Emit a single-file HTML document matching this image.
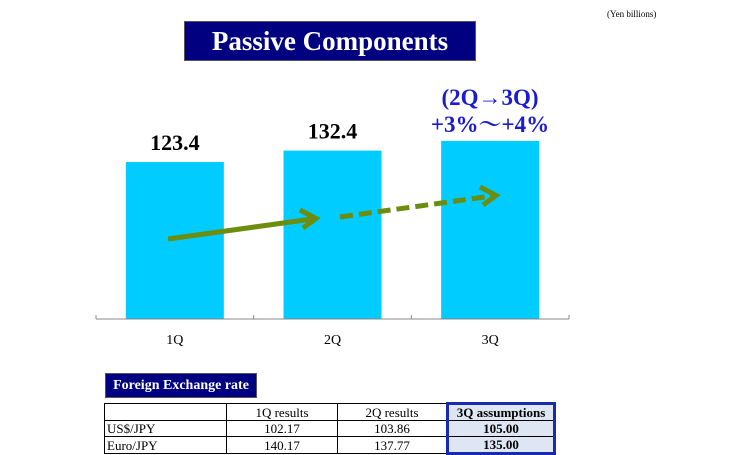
<!DOCTYPE html>
<html><head><meta charset="utf-8"><style>
body{margin:0;width:750px;height:453px;background:#fff;overflow:hidden;font-family:"Liberation Serif",serif;position:relative}
.abs{position:absolute}
table{border-collapse:collapse;position:absolute;left:104px;top:402px;font-size:13px;font-family:"Liberation Serif",serif}
td{border:1px solid #000;height:15px;padding:0 2px;line-height:15px;text-align:center}
td.l{text-align:left}
td.q3{background:#dde6f2;font-weight:bold;border-left:3px solid #1a2ab0;border-right:3px solid #1a2ab0}
</style></head><body>
<div class="abs" style="left:607px;top:9px;font-size:9px">(Yen billions)</div>
<div class="abs" style="left:184px;top:21px;width:290px;height:38px;background:#000080;border:1px solid #555;color:#fff;font-weight:bold;font-size:27px;text-align:center;line-height:38px">Passive Components</div>
<svg class="abs" style="left:0;top:0" width="750" height="370">
<g id="g"></g>
<text x="490" y="105" text-anchor="middle" font-weight="bold" font-size="23" fill="#1a1ad0" font-family="Liberation Serif">(2Q→3Q)</text>
<text x="490" y="132" text-anchor="middle" font-weight="bold" font-size="23" fill="#1a1ad0" font-family="Liberation Serif, Noto Serif CJK SC, serif">+3%～+4%</text>
<line x1="168" y1="239" x2="312" y2="219" stroke="#6b8e10" stroke-width="5"/>
<polyline points="300,210 316,218.5 303,228" fill="none" stroke="#6b8e10" stroke-width="5"/>
<line x1="340" y1="217" x2="492" y2="196" stroke="#6b8e10" stroke-width="5" stroke-dasharray="13,6"/>
<polyline points="480,187 496,195.5 483,205" fill="none" stroke="#6b8e10" stroke-width="5"/>
</svg>
<div class="abs" style="left:105px;top:373px;width:150px;height:23px;background:#000080;border:1px solid #555;color:#fff;font-weight:bold;font-size:14px;text-align:center;line-height:23px">Foreign Exchange rate</div>
<table>
<tr><td style="width:117px"></td><td style="width:106px">1Q results</td><td style="width:104px">2Q results</td><td class="q3" style="width:100px;border-top:3px solid #1a2ab0">3Q assumptions</td></tr>
<tr><td class="l">US$/JPY</td><td>102.17</td><td>103.86</td><td class="q3">105.00</td></tr>
<tr><td class="l">Euro/JPY</td><td>140.17</td><td>137.77</td><td class="q3" style="border-bottom:3px solid #1a2ab0">135.00</td></tr>
</table>
<script>
const categories=["1Q","2Q","3Q"];
const values=[123.4,132.4,140];
const valueLabels=["123.4","132.4",""];
const NS="http://www.w3.org/2000/svg";
const g=document.getElementById('g');
const x0=96,x1=569,base=319,k=1.272,bw=98;
const cw=(x1-x0)/categories.length;
const X=i=>x0+cw*i+cw/2;
const Y=v=>base-v*k;
function mk(t,a){const e=document.createElementNS(NS,t);for(const n in a)e.setAttribute(n,a[n]);g.appendChild(e);return e;}
categories.forEach((c,i)=>{
 const r=mk('rect',{x:X(i)-bw/2,y:Y(values[i]),width:bw,height:base-Y(values[i]),fill:'#00ccff'});
 
 
 const t=mk('text',{x:X(i),y:base+25,'text-anchor':'middle','font-size':14,'font-family':'Liberation Serif'});
 t.textContent=c;
 
 
 if(valueLabels[i]){
  const v=mk('text',{x:X(i),y:Y(values[i])-12,'text-anchor':'middle','font-size':22,'font-weight':'bold','font-family':'Liberation Serif'});
  v.textContent=valueLabels[i];
  
  
 }
});
const ax=mk('line',{x1:x0,y1:base,x2:x1,y2:base,stroke:'#888','stroke-width':1});


for(let i=0;i<=categories.length;i++){
 const tk=mk('line',{x1:x0+cw*i,y1:base-4,x2:x0+cw*i,y2:base,stroke:'#888'});
 
 
}
</script>
</body></html>
